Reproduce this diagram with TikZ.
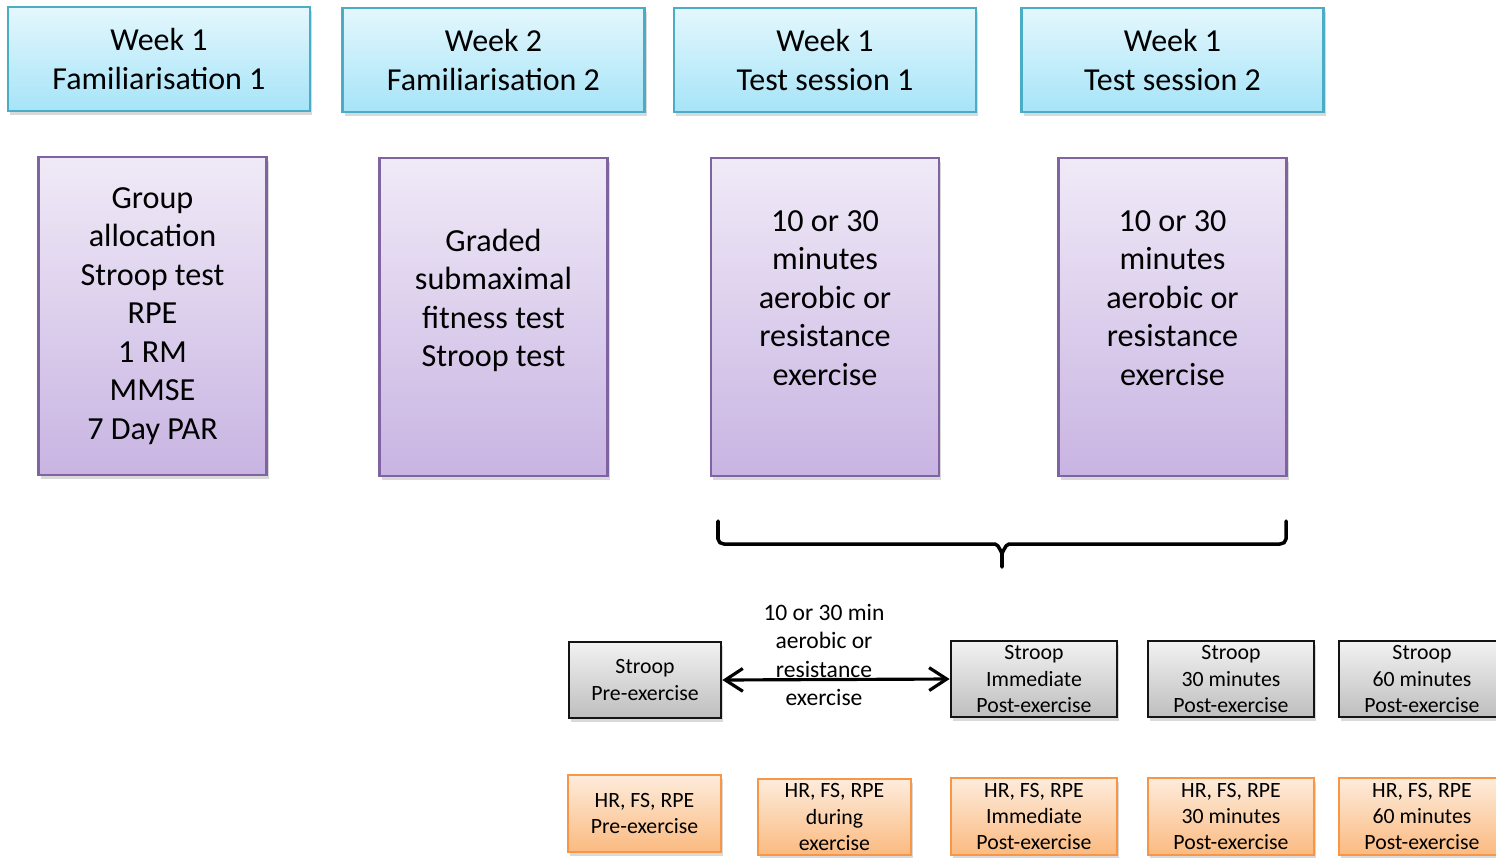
\documentclass[tikz,border=0pt]{standalone}
\usepackage{fontspec}
\setmainfont{Carlito}
\usetikzlibrary{arrows.meta, shadows}
\definecolor{weekline}{RGB}{75,172,198}
\definecolor{weektop}{RGB}{228,247,253}
\definecolor{weekbot}{RGB}{166,228,248}
\definecolor{taskline}{RGB}{128,100,162}
\definecolor{tasktop}{RGB}{240,234,247}
\definecolor{taskbot}{RGB}{200,180,226}
\definecolor{stroopline}{RGB}{20,20,20}
\definecolor{strooptop}{RGB}{242,242,242}
\definecolor{stroopbot}{RGB}{190,190,190}
\definecolor{hrline}{RGB}{247,150,70}
\definecolor{hrtop}{RGB}{253,236,220}
\definecolor{hrbot}{RGB}{251,186,128}

\begin{document}
\begin{tikzpicture}[x=0.01cm, y=-0.01cm,
  shade/.style={drop shadow={opacity=0.3, shadow xshift=0.6pt, shadow yshift=-1.2pt}},
  week/.style={shade, draw=weekline, line width=0.65pt, top color=weektop, bottom color=weekbot,
    minimum width=3.02cm, minimum height=1.04cm, align=center, font=\fontsize{9.1}{11.1}\selectfont},
  task/.style={shade, draw=taskline, line width=0.65pt, top color=tasktop, bottom color=taskbot,
    minimum width=2.28cm, minimum height=3.18cm, align=center, font=\fontsize{9.15}{10.95}\selectfont},
  stroop/.style={shade, draw=stroopline, line width=0.75pt, top color=strooptop, bottom color=stroopbot,
    minimum width=1.66cm, minimum height=0.76cm, inner ysep=0pt, align=center, font=\fontsize{6.2}{7.4}\selectfont},
  hr/.style={shade, draw=hrline, line width=0.65pt, top color=hrtop, bottom color=hrbot,
    minimum width=1.66cm, minimum height=0.77cm, inner ysep=0pt, align=center, font=\fontsize{6.2}{7.4}\selectfont},
]
\useasboundingbox (0,0) rectangle (1496,857);

% week headers
\node[week] (w1) at (159,59) {Week 1\\Familiarisation 1};
\node[week] (w2) at (493.5,60) {Week 2\\Familiarisation 2};
\node[week] (w3) at (825,60) {Week 1\\Test session 1};
\node[week] (w4) at (1172.5,60) {Week 1\\Test session 2};

% what happens in each session
\node[task] (t1) at (152.5,316) {Group\\allocation\\Stroop test\\RPE\\1 RM\\MMSE\\7 Day PAR};
\node[task] (t2) at (493.5,317) {Graded\\submaximal\\fitness test\\Stroop test\\~};
\node[task] (t3) at (825,317) {10 or 30\\minutes\\aerobic or\\resistance\\exercise\\~};
\node[task] (t4) at (1172.5,317) {10 or 30\\minutes\\aerobic or\\resistance\\exercise\\~};

% bracket under the test sessions
\draw[line width=1pt, line cap=round, line join=round]
  (718,521) -- (718,539) to[out=-90,in=180] (724,544) -- (995,544) to[out=0,in=-90] (1002,552) -- (1002,567)
  (1002,552) to[out=-90,in=180] (1009,544) -- (1280,544) to[out=0,in=-90] (1286,539) -- (1286,521);

% stroop timeline
\node[stroop, minimum width=1.52cm] (g1) at (645,680) {Stroop\\Pre-exercise};
\node[stroop] (g2) at (1034,679) {Stroop\\Immediate\\Post-exercise};
\node[stroop] (g3) at (1231,679) {Stroop\\30 minutes\\Post-exercise};
\node[stroop] (g4) at (1422,679) {Stroop\\60 minutes\\Post-exercise};

\node[align=center, font=\fontsize{6.7}{8.1}\selectfont] (ex) at (824,655) {10 or 30 min\\aerobic or\\resistance\\exercise};
\draw[{Straight Barb[length=5pt,width=6.5pt]}-{Straight Barb[length=5pt,width=6.5pt]}, line width=0.9pt] (g1.east) -- (g2.west);

% HR, FS, RPE measures
\node[hr, minimum width=1.53cm] (h1) at (644.5,813.5) {HR, FS, RPE\\Pre-exercise};
\node[hr, minimum width=1.53cm, minimum height=0.76cm] (h2) at (834.5,817) {HR, FS, RPE\\during\\exercise};
\node[hr] (h3) at (1034,816.5) {HR, FS, RPE\\Immediate\\Post-exercise};
\node[hr] (h4) at (1231,816.5) {HR, FS, RPE\\30 minutes\\Post-exercise};
\node[hr] (h5) at (1422,816.5) {HR, FS, RPE\\60 minutes\\Post-exercise};

\end{tikzpicture}
\end{document}
